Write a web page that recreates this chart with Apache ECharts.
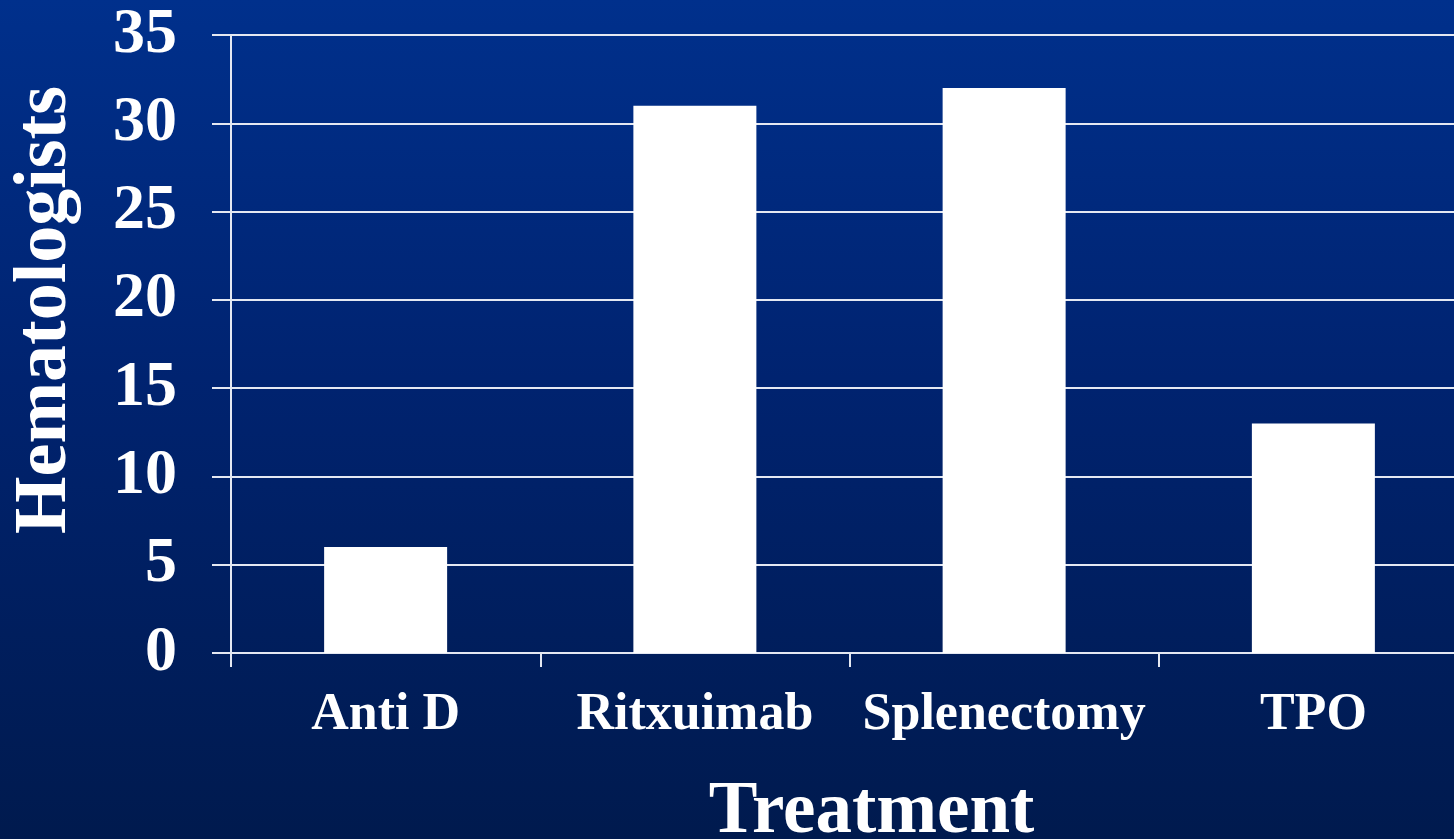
<!DOCTYPE html>
<html>
<head>
<meta charset="utf-8">
<script src="https://cdn.jsdelivr.net/npm/echarts@6/dist/echarts.min.js"></script>
<style>
  html, body { margin: 0; padding: 0; width: 1454px; height: 839px; overflow: hidden; }
  body { background: linear-gradient(to bottom, #00308c 0%, #002370 45%, #001a4e 100%); }
  #chart { width: 1454px; height: 839px; }
</style>
</head>
<body>
<div id="chart"></div>
<script>
// Number of hematologists using each second-line treatment
const treatments = ['Anti D', 'Ritxuimab', 'Splenectomy', 'TPO'];
const hematologists = [6, 31, 32, 13];
const yTicks = [0, 5, 10, 15, 20, 25, 30, 35];

const serif = '"Liberation Serif", "Times New Roman", serif';
const lineColor = '#e4e8f2';

const chart = echarts.init(document.getElementById('chart'), null, { renderer: 'canvas' });
chart.setOption({
  backgroundColor: 'transparent',
  animation: false,
  grid: { left: 231, top: 35, right: -14, bottom: 186, containLabel: false, outerBoundsMode: 'none' },
  xAxis: {
    type: 'category',
    data: treatments,
    boundaryGap: true,
    name: 'Treatment',
    nameLocation: 'middle',
    nameGap: 124,
    nameTextStyle: { color: '#ffffff', fontFamily: serif, fontWeight: 'bold', fontSize: 73, padding: [0, 0, 0, 44] },
    axisLine: { show: true, lineStyle: { color: lineColor, width: 2 } },
    axisTick: { show: true, alignWithLabel: false, length: 14, lineStyle: { color: lineColor, width: 2 } },
    axisLabel: { color: '#ffffff', fontFamily: serif, fontWeight: 'bold', fontSize: 52, margin: 37, interval: 0 },
    splitLine: { show: false }
  },
  yAxis: {
    type: 'value',
    min: yTicks[0],
    max: yTicks[yTicks.length - 1],
    interval: yTicks[1] - yTicks[0],
    name: 'Hematologists',
    nameLocation: 'middle',
    nameRotate: 90,
    nameGap: 148,
    nameTextStyle: { color: '#ffffff', fontFamily: serif, fontWeight: 'bold', fontSize: 74, padding: [0, 0, 0, 68] },
    axisLine: { show: true, lineStyle: { color: lineColor, width: 2 } },
    axisTick: { show: true, length: 19, lineStyle: { color: lineColor, width: 2 } },
    axisLabel: { color: '#ffffff', fontFamily: serif, fontWeight: 'bold', fontSize: 64, margin: 54 },
    splitLine: { show: true, lineStyle: { color: lineColor, width: 2 } }
  },
  series: [{
    type: 'bar',
    data: hematologists,
    barWidth: 123,
    itemStyle: { color: '#ffffff' }
  }]
});
</script>
</body>
</html>
